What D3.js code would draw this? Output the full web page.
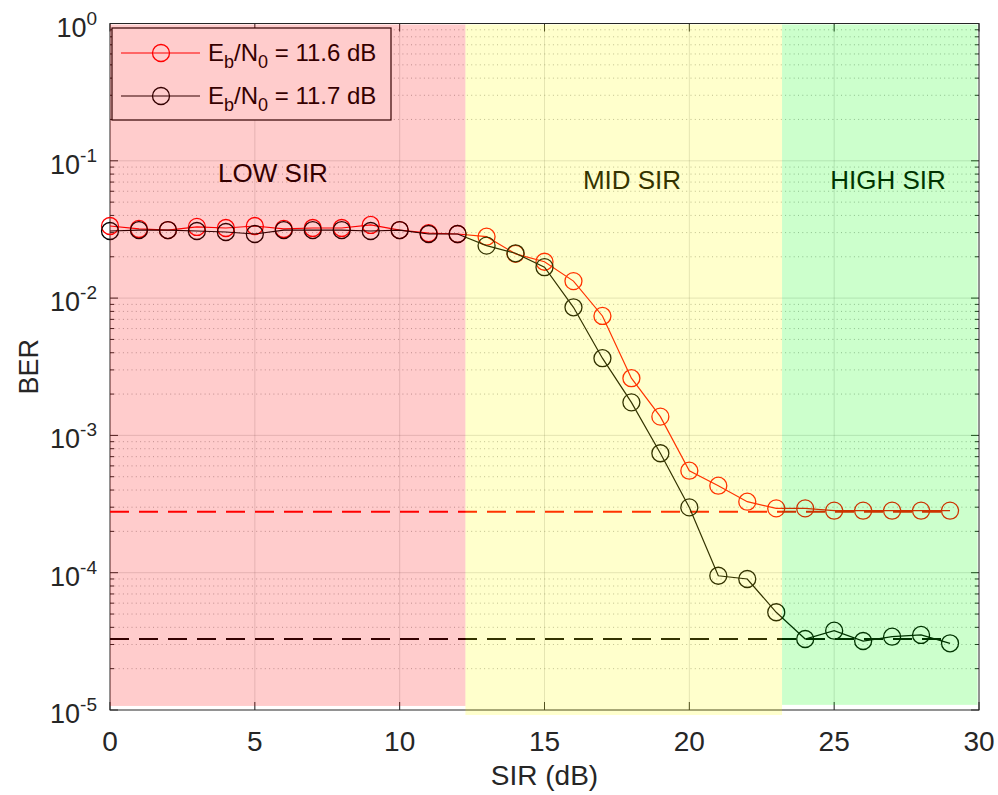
<html>
<head>
  <meta charset="UTF-8">
  <title>BER vs SIR</title>
  <style>
    body { margin: 0; background: #fff; font-family: "Liberation Sans", Arial, sans-serif; }
    svg text { fill: #262626; }
  </style>
</head>
<body>
<svg id="chart"></svg>
<script src="https://d3js.org/d3.v7.min.js"></script>
<script>
// data
let sir = d3.range(0, 30);
let ber116 = [0.0335, 0.0319, 0.0313, 0.0330, 0.0324, 0.0335, 0.0319, 0.0324, 0.0324, 0.0341,
              0.0313, 0.0297, 0.0293, 0.0280, 0.0210, 0.0184, 0.0133, 0.00741, 0.00261, 0.00137,
              0.000553, 0.000430, 0.000329, 0.000294, 0.000294, 0.000283, 0.000283, 0.000283, 0.000283, 0.000283];
let ber117 = [0.0308, 0.0313, 0.0313, 0.0308, 0.0303, 0.0293, 0.0313, 0.0313, 0.0313, 0.0308,
              0.0313, 0.0293, 0.0293, 0.0241, 0.0212, 0.0168, 0.00857, 0.00365, 0.00174, 0.000741,
              0.000299, 9.5e-5, 9.0e-5, 5.15e-5, 3.29e-5, 3.78e-5, 3.18e-5, 3.42e-5, 3.52e-5, 3.06e-5];
let floor116 = 0.000278, floor117 = 3.29e-5;
let legendLabels = ["11.6", "11.7"];
let xTicks = [0, 5, 10, 15, 20, 25, 30];
let yTicks = [0, -1, -2, -3, -4, -5];
let regions = [
  { name: "LOW SIR", x0: 0, x1: 12.27, fill: "#ff0000" },
  { name: "MID SIR", x0: 12.27, x1: 23.2, fill: "#ffff00" },
  { name: "HIGH SIR", x0: 23.2, x1: 29.95, fill: "#00ff00" }
];

let width = 998, height = 795;
let svg = d3.select("#chart").attr("width", width).attr("height", height);

let x = d3.scaleLinear().domain([0, 30]).range([110, 979]);
let y = d3.scaleLog().domain([1e-5, 1]).range([710, 23.5]);
let axisCol = "#262626";

// grid
let grid = svg.append("g");
let minor = [];
yTicks.slice(1).forEach(e => { for (let k = 2; k < 10; k++) minor.push(k * Math.pow(10, e)); });
grid.selectAll(".minor").data(minor).enter().append("line")
  .attr("x1", x(0)).attr("x2", x(30))
  .attr("y1", d => y(d)).attr("y2", d => y(d))
  .attr("stroke", axisCol).attr("stroke-opacity", 0.35)
  .attr("stroke-dasharray", "1,3.3").attr("stroke-width", 1);
grid.selectAll(".vx").data(xTicks.slice(1, -1)).enter().append("line")
  .attr("x1", d => x(d)).attr("x2", d => x(d))
  .attr("y1", y(1)).attr("y2", y(1e-5))
  .attr("stroke", axisCol).attr("stroke-opacity", 0.15);
grid.selectAll(".hy").data(yTicks.slice(1, -1)).enter().append("line")
  .attr("x1", x(0)).attr("x2", x(30))
  .attr("y1", d => y(Math.pow(10, d))).attr("y2", d => y(Math.pow(10, d)))
  .attr("stroke", axisCol).attr("stroke-opacity", 0.15);

// box and ticks
let box = svg.append("g").attr("stroke", axisCol).attr("fill", "none");
box.append("rect").attr("x", x(0)).attr("y", y(1))
  .attr("width", x(30) - x(0)).attr("height", y(1e-5) - y(1));
xTicks.forEach(t => {
  box.append("line").attr("x1", x(t)).attr("x2", x(t)).attr("y1", y(1e-5)).attr("y2", y(1e-5) - 8);
  box.append("line").attr("x1", x(t)).attr("x2", x(t)).attr("y1", y(1)).attr("y2", y(1) + 8);
});
yTicks.forEach(e => {
  let v = Math.pow(10, e);
  box.append("line").attr("x1", x(0)).attr("x2", x(0) + 8).attr("y1", y(v)).attr("y2", y(v));
  box.append("line").attr("x1", x(30)).attr("x2", x(30) - 8).attr("y1", y(v)).attr("y2", y(v));
});
minor.forEach(v => {
  box.append("line").attr("x1", x(0)).attr("x2", x(0) + 4).attr("y1", y(v)).attr("y2", y(v));
  box.append("line").attr("x1", x(30)).attr("x2", x(30) - 4).attr("y1", y(v)).attr("y2", y(v));
});

// floor lines
[[floor116, "#ff0000"], [floor117, "#000000"]].forEach(f => {
  svg.append("line")
    .attr("x1", x(0)).attr("x2", x(29))
    .attr("y1", y(f[0])).attr("y2", y(f[0]))
    .attr("stroke", f[1]).attr("stroke-width", 2)
    .attr("stroke-dasharray", "19,10");
});

// series
let line = d3.line().x((d, i) => x(sir[i])).y(d => y(d));
let series = [
  { values: ber116, color: "#ff0000" },
  { values: ber117, color: "#000000" }
];
series.forEach(s => {
  svg.append("path").attr("d", line(s.values))
    .attr("fill", "none").attr("stroke", s.color).attr("stroke-width", 1.2);
  svg.append("g").selectAll("circle").data(s.values).enter().append("circle")
    .attr("cx", (d, i) => x(sir[i])).attr("cy", d => y(d)).attr("r", 8.5)
    .attr("fill", "none").attr("stroke", s.color).attr("stroke-width", 1.3);
});

// legend
let lg = svg.append("g");
lg.append("rect").attr("x", 112).attr("y", 28).attr("width", 279).attr("height", 92)
  .attr("fill", "#fff").attr("stroke", "#000").attr("stroke-width", 1.2);
series.forEach((s, i) => {
  let ly = 53 + i * 43;
  lg.append("line").attr("x1", 121).attr("x2", 200).attr("y1", ly).attr("y2", ly)
    .attr("stroke", s.color).attr("stroke-width", 1.2);
  lg.append("circle").attr("cx", 161).attr("cy", ly).attr("r", 8.5)
    .attr("fill", "none").attr("stroke", s.color).attr("stroke-width", 1.3);
  let t = lg.append("text").attr("x", 208).attr("y", ly + 8)
    .attr("font-size", "24px").style("fill", "#000");
  t.append("tspan").text("E");
  t.append("tspan").attr("dy", 7).attr("font-size", "18px").text("b");
  t.append("tspan").attr("dy", -7).text("/N");
  t.append("tspan").attr("dy", 7).attr("font-size", "18px").text("0");
  t.append("tspan").attr("dy", -7).text(" = " + legendLabels[i] + " dB");
});

// region labels
let labelPos = [[273, 182], [632, 189], [888, 189]];
regions.forEach((r, i) => {
  svg.append("text").attr("x", labelPos[i][0]).attr("y", labelPos[i][1])
    .attr("text-anchor", "middle").attr("font-size", "26px")
    .style("fill", "#000").text(r.name);
});

// translucent region patches drawn on top
let patchBottom = [1.07e-5, 0.92e-5, 1.09e-5];
regions.forEach((r, i) => {
  svg.append("rect")
    .attr("x", x(r.x0)).attr("y", y(1) + 1)
    .attr("width", x(r.x1) - x(r.x0))
    .attr("height", y(patchBottom[i]) - y(1) - 1)
    .attr("fill", r.fill).attr("fill-opacity", 0.2);
});

// tick labels
svg.append("g").selectAll("text").data(xTicks).enter().append("text")
  .attr("x", d => x(d)).attr("y", 751)
  .attr("text-anchor", "middle").attr("font-size", "28px")
  .text(d => d);

yTicks.forEach(e => {
  let t = svg.append("text").attr("x", 97).attr("y", y(Math.pow(10, e)) + 13)
    .attr("text-anchor", "end").attr("font-size", "27px");
  t.append("tspan").text("10");
  t.append("tspan").attr("dy", -12).attr("font-size", "19px").text(e);
});

svg.append("text").attr("x", x(15)).attr("y", 785)
  .attr("text-anchor", "middle").attr("font-size", "28px").text("SIR (dB)");
svg.append("text").attr("transform", "translate(38," + y(Math.pow(10, -2.5)) + ") rotate(-90)")
  .attr("text-anchor", "middle").attr("font-size", "27px").text("BER");
</script>
</body>
</html>
